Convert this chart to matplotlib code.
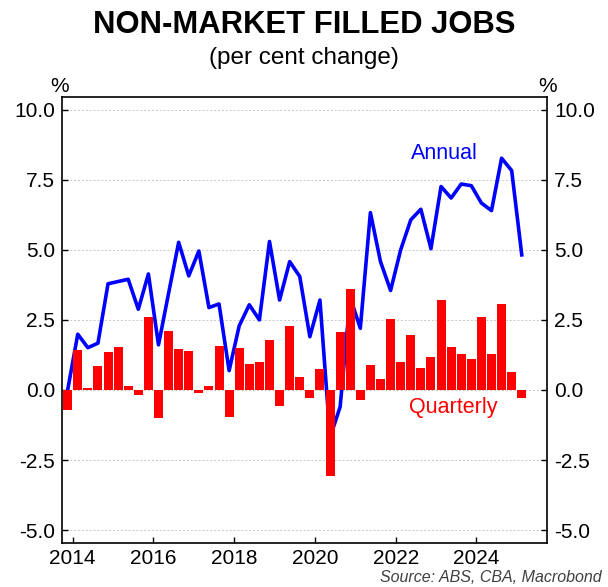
import matplotlib.pyplot as plt
import numpy as np

plt.rcParams['font.family'] = ['Liberation Sans', 'DejaVu Sans']

# quarters from Q4 2013 to Q1 2025
years = [2013] + [y for y in range(2014, 2025) for q in range(4)] + [2025]
quarters = [4] + [q for y in range(2014, 2025) for q in range(1, 5)] + [1]

quarterly = [-0.7, 1.43, 0.06, 0.86, 1.35, 1.52, 0.14, -0.19, 2.62, -0.99,
             2.12, 1.45, 1.39, -0.1, 0.14, 1.57, -0.95, 1.51, 0.91, 1.0,
             1.79, -0.56, 2.29, 0.46, -0.3, 0.74, -3.07, 2.07, 3.61, -0.37,
             0.9, 0.39, 2.54, 1.01, 1.96, 0.77, 1.17, 3.2, 1.52, 1.27,
             1.11, 2.6, 1.29, 3.07, 0.64, -0.27]
annual = [0.0, 1.99, 1.51, 1.67, 3.79, 3.87, 3.95, 2.88, 4.14, 1.61,
          3.45, 5.27, 4.07, 4.96, 2.94, 3.07, 0.69, 2.29, 3.04, 2.5,
          5.3, 3.21, 4.58, 4.05, 1.9, 3.21, -1.7, -0.6, 3.3, 2.2,
          6.33, 4.58, 3.55, 5.0, 6.07, 6.45, 5.04, 7.26, 6.85, 7.35,
          7.29, 6.67, 6.4, 8.27, 7.83, 4.82]

yticks = [-5.0, -2.5, 0.0, 2.5, 5.0, 7.5, 10.0]
xticks = [2014, 2016, 2018, 2020, 2022, 2024]

# mid-quarter position in decimal years
x = np.array(years) + (np.array(quarters) - 1) * 0.25 + 0.125

fig = plt.figure(figsize=(6.08, 5.87), dpi=100)
ax = fig.add_axes([0.102, 0.075, 0.798, 0.76])

ax.plot(x, annual, color='#0000ff', lw=2.6, zorder=2)
ax.bar(x, quarterly, width=0.222, color='#ff0000', zorder=3)

ax.set_xlim(2013.735, 2025.755)
ax.set_ylim(-5.46, 10.46)
ax.set_yticks(yticks)
ax.set_yticklabels(['%.1f' % v for v in yticks])
ax.set_xticks(xticks)
ax.set_xticklabels([str(v) for v in xticks])
ax.grid(axis='y', color='#c8c8c8', linestyle=(0, (2, 2)), lw=0.7, zorder=0)

ax.tick_params(axis='both', direction='in', length=4, width=1, labelsize=15, colors='black')
ax.tick_params(axis='y', right=True, labelright=True, pad=5)
ax.tick_params(axis='x', pad=4)
for s in ax.spines.values():
    s.set_linewidth(1.2)

# series labels
fig.text(444.5 / 608, 1 - 153.5 / 587, 'Annual', color='#0000ff', fontsize=15.5,
         ha='center', va='center')
fig.text(453 / 608, 1 - 407 / 587, 'Quarterly', color='#ff0000', fontsize=15.5,
         ha='center', va='center')

fig.text(0.5, 1 - 25 / 587, 'NON-MARKET FILLED JOBS', fontsize=22.3, fontweight='bold',
         ha='center', va='center')
fig.text(0.5, 1 - 58 / 587, '(per cent change)', fontsize=17.5, ha='center', va='center')
fig.text(60 / 608, 1 - 86 / 587, '%', fontsize=15, ha='center', va='center')
fig.text(548 / 608, 1 - 86 / 587, '%', fontsize=15, ha='center', va='center')
fig.text(602 / 608, 1 - 578 / 587, 'Source: ABS, CBA, Macrobond', fontsize=11.5,
         style='italic', color='#404040', ha='right', va='center')

fig.savefig('out.png', dpi=100)
